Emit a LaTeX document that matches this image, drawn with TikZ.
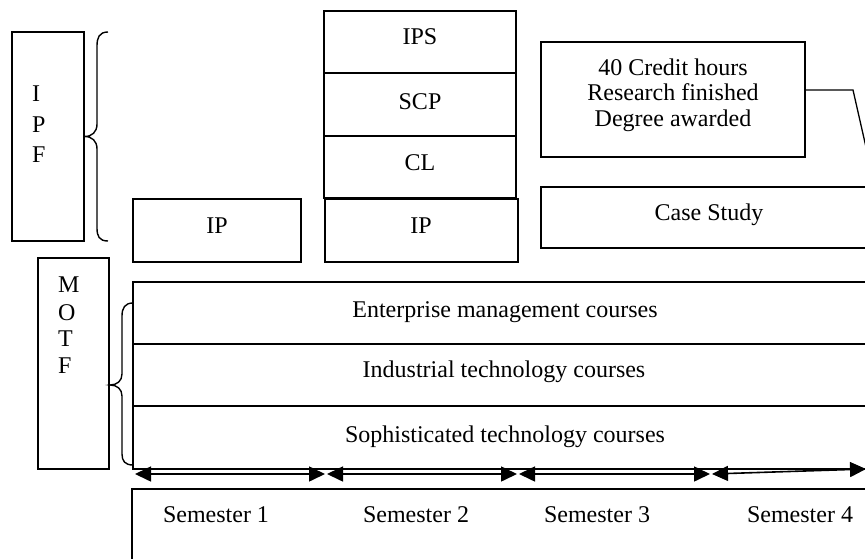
\documentclass[tikz,border=0pt]{standalone}
\usepackage{fontspec}
\setmainfont{Liberation Serif}
\usetikzlibrary{arrows.meta}
\begin{document}
\begin{tikzpicture}[x=1pt,y=-1pt,
  box/.style={draw, line width=1.3pt, rectangle, inner sep=0pt},
  txt/.style={font=\fontsize{24}{25.5}\selectfont, inner sep=0pt, anchor=base},
  vtxt/.style={font=\fontsize{24}{25.5}\selectfont, inner sep=0pt, anchor=base west},
  brace/.style={line width=1.4pt},
  conn/.style={line width=1.3pt},
  span/.style={line width=1.6pt, {Triangle[length=16pt,width=15pt]}-{Triangle[length=16pt,width=15pt]}}
]
\useasboundingbox (0,0) rectangle (865,559);
\clip (0,0) rectangle (865,559);

% boxes
\node[box, minimum width=72pt, minimum height=209pt] (ipf) at (48,136.5) {};
\node[box, minimum width=71pt, minimum height=211pt] (motf) at (73.5,363.5) {};
\node[box, minimum width=168pt, minimum height=63pt] (ipa) at (217,230.5) {};
\node[box, minimum width=192pt, minimum height=62pt] (ips) at (420,42) {};
\node[box, minimum width=192pt, minimum height=63pt] (scp) at (420,104.5) {};
\node[box, minimum width=192pt, minimum height=62pt] (cl) at (420,167) {};
\node[box, minimum width=193pt, minimum height=63pt] (ipb) at (421.5,230.5) {};
\node[box, minimum width=264pt, minimum height=115pt] (credit) at (673,99.5) {};
\node[box, minimum width=336pt, minimum height=61pt] (cs) at (709,217.5) {};
\node[box, minimum width=744pt, minimum height=62pt] (ent) at (505,313) {};
\node[box, minimum width=744pt, minimum height=62pt] (ind) at (505,375) {};
\node[box, minimum width=744pt, minimum height=63pt] (soph) at (505,437.5) {};
\node[box, minimum width=745pt, minimum height=112pt] (sem) at (504.5,545) {};

% texts
\node[vtxt] (tI) at (32,102) {I};
\node[vtxt] (tP) at (32,133) {P};
\node[vtxt] (tF) at (32,163) {F};
\node[vtxt] (tM) at (58,292) {M};
\node[vtxt] (tO) at (58,320) {O};
\node[vtxt] (tT) at (58,346) {T};
\node[vtxt] (tF2) at (58,373) {F};
\node[txt] (tipa) at (217,233) {IP};
\node[txt] (tips) at (420,45) {IPS};
\node[txt] (tscp) at (420,110) {SCP};
\node[txt] (tcl) at (420,171) {CL};
\node[txt] (tipb) at (421,233) {IP};
\node[txt, anchor=center, align=center] (tcredit) at (673,95) {40 Credit hours\\Research finished\\Degree awarded};
\node[txt] (tcs) at (709,220) {Case Study};
\node[txt] (tent) at (505,317) {Enterprise management courses};
\node[txt] (tind) at (504,377) {Industrial technology courses};
\node[txt] (tsoph) at (505,442) {Sophisticated technology courses};
\node[txt] (ts1) at (216,522) {Semester 1};
\node[txt] (ts2) at (416,522) {Semester 2};
\node[txt] (ts3) at (597,522) {Semester 3};
\node[txt] (ts4) at (800,522) {Semester 4};

% braces
\draw[brace] (108,32) .. controls (99,32) and (97,38) .. (97,46) -- (97,124)
  .. controls (97,132) and (92,136.5) .. (ipf.east)
  .. controls (92,136.5) and (97,141) .. (97,149) -- (97,228)
  .. controls (97,236) and (99,241) .. (108,241);
\draw[brace] (133,303) .. controls (125,303) and (122,308) .. (122,316) -- (122,374)
  .. controls (122,381) and (117,385) .. (110,385)
  .. controls (117,385) and (122,389) .. (122,396) -- (122,454)
  .. controls (122,461) and (125,465) .. (133,465);

% connector
\coordinate (k1) at (853,90);
\coordinate (k2) at (868,156);
\draw[conn] (credit.east |- k1) -- (k1) -- (k2);

% semester arrows
\coordinate (a0) at (135,474);
\coordinate (a1) at (325,474);
\coordinate (a1b) at (327,474);
\coordinate (a2) at (517,474);
\coordinate (a2b) at (519,474);
\coordinate (a3) at (710,474);
\coordinate (a3b) at (712,474);
\coordinate (a4) at (866,469);
\draw[span] (a0) -- (a1);
\draw[span] (a1b) -- (a2);
\draw[span] (a2b) -- (a3);
\draw[span] (a3b) -- (a4);
\end{tikzpicture}
\end{document}
